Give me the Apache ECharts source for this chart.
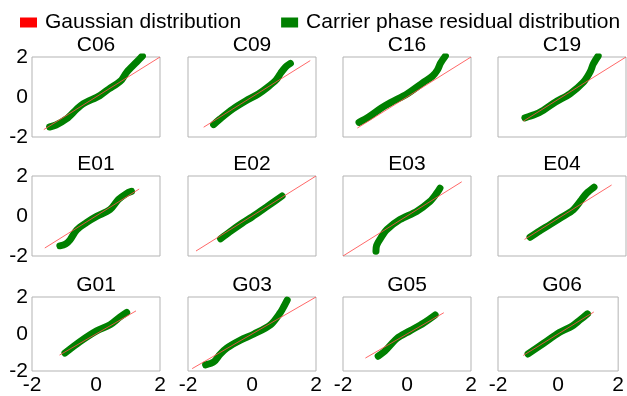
<!DOCTYPE html>
<html>
<head>
<meta charset="utf-8">
<script src="https://cdn.jsdelivr.net/npm/echarts@6/dist/echarts.min.js"></script>
<style>
  html, body { margin: 0; padding: 0; background: #fff; }
  #chart { width: 627px; height: 396px; }
</style>
</head>
<body>
<div id="chart"></div>
<script>
// panel names, row by row
const panelNames = ['C06', 'C09', 'C16', 'C19', 'E01', 'E02', 'E03', 'E04', 'G01', 'G03', 'G05', 'G06'];
const axisTicks = [-2, 0, 2];

// Gaussian reference line, end points per panel
const gaussianLines = [
    [[-1.63, -1.63], [2.0, 2.0]],
    [[-1.51, -1.51], [1.82, 1.82]],
    [[-1.55, -1.55], [2.0, 2.0]],
    [[-1.21, -1.21], [2.0, 2.0]],
    [[-1.6, -1.6], [1.35, 1.35]],
    [[-1.75, -1.75], [2.0, 2.0]],
    [[-2.0, -2.0], [1.71, 1.71]],
    [[-1.17, -1.17], [1.55, 1.55]],
    [[-1.14, -1.14], [1.25, 1.25]],
    [[-1.87, -1.87], [2.0, 2.0]],
    [[-1.3, -1.3], [1.15, 1.15]],
    [[-1.16, -1.16], [1.19, 1.19]]
];

// carrier phase residual quantiles
const residualCurves = [
    [[-1.45, -1.5], [-1.25, -1.4], [-0.92, -1.09], [-0.6, -0.6], [-0.4, -0.34], [0.12, 0.07], [0.4, 0.4], [0.65, 0.66], [0.8, 0.85], [0.96, 1.24], [1.27, 1.75], [1.45, 2.05]],
    [[-1.2, -1.38], [-1.0, -1.1], [-0.6, -0.6], [-0.2, -0.2], [0.2, 0.15], [0.5, 0.5], [0.75, 0.85], [0.9, 1.2], [1.05, 1.5], [1.2, 1.68]],
    [[-1.5, -1.27], [-1.2, -1.0], [-0.8, -0.55], [-0.5, -0.27], [0.0, 0.15], [0.5, 0.72], [0.8, 1.05], [0.95, 1.35], [1.05, 1.7], [1.2, 2.05]],
    [[-1.16, -1.04], [-0.85, -0.88], [-0.58, -0.66], [-0.2, -0.25], [0.25, 0.16], [0.67, 0.74], [0.875, 1.24], [0.98, 1.66], [1.13, 2.05]],
    [[-1.13, -1.49], [-0.95, -1.4], [-0.81, -1.19], [-0.6, -0.69], [-0.3, -0.33], [0.02, -0.02], [0.44, 0.32], [0.7, 0.82], [0.95, 1.12], [1.11, 1.23]],
    [[-0.98, -1.14], [-0.7, -0.8], [-0.3, -0.35], [0.0, -0.05], [0.3, 0.28], [0.6, 0.62], [0.94, 1.0]],
    [[-0.97, -1.76], [-0.95, -1.47], [-0.8, -1.05], [-0.63, -0.68], [-0.22, -0.18], [0.3, 0.23], [0.72, 0.73], [0.93, 1.14], [1.03, 1.39]],
    [[-1.0, -1.06], [-0.7, -0.75], [-0.375, -0.43], [0.0, -0.05], [0.35, 0.31], [0.61, 0.82], [0.77, 1.14], [1.0, 1.44]],
    [[-0.97, -1.03], [-0.5, -0.41], [0.02, 0.17], [0.44, 0.5], [0.75, 0.92], [0.96, 1.17]],
    [[-1.45, -1.67], [-1.19, -1.5], [-1.0, -1.1], [-0.78, -0.75], [-0.36, -0.33], [0.06, 0.0], [0.58, 0.5], [0.89, 1.17], [1.0, 1.5], [1.1, 1.83]],
    [[-0.9, -1.2], [-0.69, -0.92], [-0.32, -0.25], [0.09, 0.17], [0.51, 0.58], [0.88, 1.03]],
    [[-1.0, -1.08], [-0.48, -0.5], [0.04, 0.08], [0.46, 0.42], [0.72, 0.75], [0.98, 1.09]]
];

const FONT = 'Liberation Sans, Arial, sans-serif';
const FS = 21;
const colLeft = [32, 188, 343, 498];
const rowTop = [57, 176, 297];
const boxW = 128;
const boxH = 80;

const chart = echarts.init(document.getElementById('chart'));

const grids = [], xAxes = [], yAxes = [], titles = [], series = [];
panelNames.forEach((name, i) => {
    const row = Math.floor(i / 4);
    const col = i % 4;
    grids.push({
        left: colLeft[col], top: rowTop[row], width: boxW, height: boxH,
        show: true, borderColor: '#b3b3b3', borderWidth: 1, backgroundColor: 'transparent'
    });
    const common = {
        type: 'value', gridIndex: i,
        min: axisTicks[0], max: axisTicks[axisTicks.length - 1], interval: 2,
        axisLine: { show: false }, axisTick: { show: false }, splitLine: { show: false }
    };
    xAxes.push({ ...common,
        axisLabel: { show: row === 2, fontSize: FS, color: '#000', fontFamily: FONT, margin: 4 } });
    yAxes.push({ ...common,
        axisLabel: { show: col === 0, fontSize: FS, color: '#000', fontFamily: FONT, margin: 4 } });
    titles.push({
        text: name, left: colLeft[col] + boxW / 2, top: rowTop[row] - 22,
        textAlign: 'center', padding: 0,
        textStyle: { fontSize: FS, fontWeight: 'normal', color: '#000', fontFamily: FONT }
    });
    series.push({
        name: 'Carrier phase residual distribution', type: 'line',
        xAxisIndex: i, yAxisIndex: i, data: residualCurves[i],
        smooth: 0.3, symbol: 'none', z: 2,
        itemStyle: { color: '#008000' },
        lineStyle: { color: '#008000', width: 7, cap: 'round', join: 'round' }
    });
    series.push({
        name: 'Gaussian distribution', type: 'line',
        xAxisIndex: i, yAxisIndex: i, data: gaussianLines[i],
        symbol: 'none', z: 3,
        itemStyle: { color: '#ff0000' },
        lineStyle: { color: '#ff4d4d', width: 1, opacity: 0.85 }
    });
});

chart.setOption({
    animation: false,
    backgroundColor: '#fff',
    title: titles,
    legend: {
        data: ['Gaussian distribution', 'Carrier phase residual distribution'],
        left: 20, top: 12, padding: 0, icon: 'rect',
        itemWidth: 17, itemHeight: 10, itemGap: 40,
        textStyle: { fontSize: FS, color: '#000', fontFamily: FONT, padding: [0, 0, 0, 3] }
    },
    grid: grids,
    xAxis: xAxes,
    yAxis: yAxes,
    series: series
});
</script>
</body>
</html>
